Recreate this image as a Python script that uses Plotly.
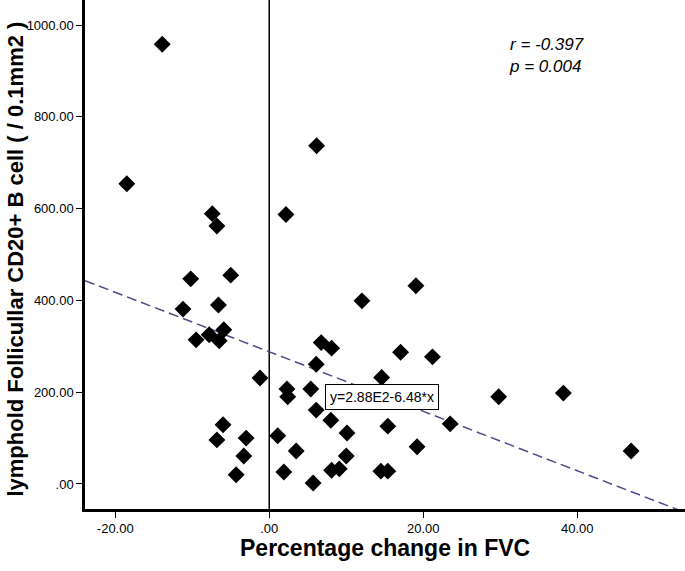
import plotly.graph_objects as go

# Percentage change in FVC (x) and CD20+ B cell count (y)
fvc_change = [-13.9, -18.5, -7.4, -6.8, -5.0, -10.2, -6.6, -11.2, -5.9, -7.8, -9.5, -6.5,
              -1.2, -6.0, -6.8, -3.0, -3.3, -4.3,
              6.15, 2.17, 19.05, 12.04, 6.75, 8.1, 17.06, 21.2, 6.1, 2.3, 2.4, 5.4, 14.6,
              29.8, 38.2, 23.5, 47.0, 6.1, 8.0, 15.4, 19.2, 1.1, 3.5, 10.1, 10.0, 1.9,
              8.1, 9.1, 14.5, 15.4, 5.7]
cd20_cells = [958, 654, 589, 562, 455, 447, 390, 381, 336, 325, 314, 312,
              231, 129, 96, 100, 61, 20,
              737, 587, 432, 399, 308, 296, 287, 277, 261, 207, 190, 207, 232,
              190, 198, 131, 72, 161, 139, 126, 81, 105, 72, 111, 61, 26,
              30, 33, 28, 28, 2]

intercept = 288.0
slope = -6.48
fit_x = [-23.93, 54.0]
fit_y = [intercept + slope * v for v in fit_x]

x_ticks = [-20, 0, 20, 40]
x_ticklabels = ["-20.00", ".00", "20.00", "40.00"]
y_ticks = [0, 200, 400, 600, 800, 1000]
y_ticklabels = [".00", "200.00", "400.00", "600.00", "800.00", "1000.00"]

x_range = [-23.93, 54.0]
y_range = [-54.5, 1054.5]

FONT = "Liberation Sans, Arial, Helvetica, sans-serif"

fig = go.Figure()
fig.add_trace(go.Scatter(x=fit_x, y=fit_y, mode="lines",
                         line=dict(color="#4b4b8c", width=1.5, dash="10px,5px"),
                         hoverinfo="skip", showlegend=False))
fig.add_trace(go.Scatter(x=fvc_change, y=cd20_cells, mode="markers",
                         marker=dict(symbol="diamond", size=13, color="black"),
                         showlegend=False))

fig.add_shape(type="line", xref="x", yref="paper", x0=0, x1=0, y0=0, y1=1,
              line=dict(color="black", width=1.5), layer="below")

fig.add_annotation(x=14.6, y=190.6, xref="x", yref="y", text="y=2.88E2-6.48*x",
                   showarrow=False, bgcolor="white", bordercolor="black", borderwidth=1,
                   borderpad=4, font=dict(family=FONT, size=14, color="black"))

fig.add_annotation(x=(507 - 85) / 600, y=1 - 33 / 509, xref="paper", yref="paper",
                   xanchor="left", yanchor="top",
                   text="<i>r = -0.397</i><br><i>p = 0.004</i>", showarrow=False, align="left",
                   font=dict(family=FONT, size=17, color="black"))

# axis titles
fig.add_annotation(x=0.5, y=(509 - 548) / 509, xref="paper", yref="paper",
                   xanchor="center", yanchor="middle", showarrow=False,
                   text="<b>Percentage change in FVC</b>",
                   font=dict(family=FONT, size=23, color="black"))
fig.add_annotation(x=(16 - 85) / 600, y=0.49, xref="paper", yref="paper",
                   xanchor="center", yanchor="middle", showarrow=False, textangle=-90,
                   text="<b>lymphold Follicullar CD20+ B cell ( / 0.1mm2 )</b>",
                   font=dict(family=FONT, size=22, color="black"))

fig.update_layout(
    width=685, height=571,
    margin=dict(l=85, r=0, t=0, b=62),
    plot_bgcolor="white", paper_bgcolor="white",
    font=dict(family=FONT, color="black"),
    xaxis=dict(range=x_range, tickvals=x_ticks, ticktext=x_ticklabels, automargin=False,
               showgrid=False, zeroline=False, showline=True, linecolor="black", linewidth=2.5,
               ticks="outside", ticklen=6, tickwidth=1.2, tickcolor="black",
               tickfont=dict(size=13)),
    yaxis=dict(range=y_range, tickvals=y_ticks, ticktext=y_ticklabels, automargin=False,
               showgrid=False, zeroline=False, showline=True, linecolor="black", linewidth=2.5,
               ticks="outside", ticklen=6, tickwidth=1.2, tickcolor="black",
               tickfont=dict(size=13)),
)

fig.write_html("out.html", config={"displayModeBar": False},
               post_script="document.body.style.margin='0';")
